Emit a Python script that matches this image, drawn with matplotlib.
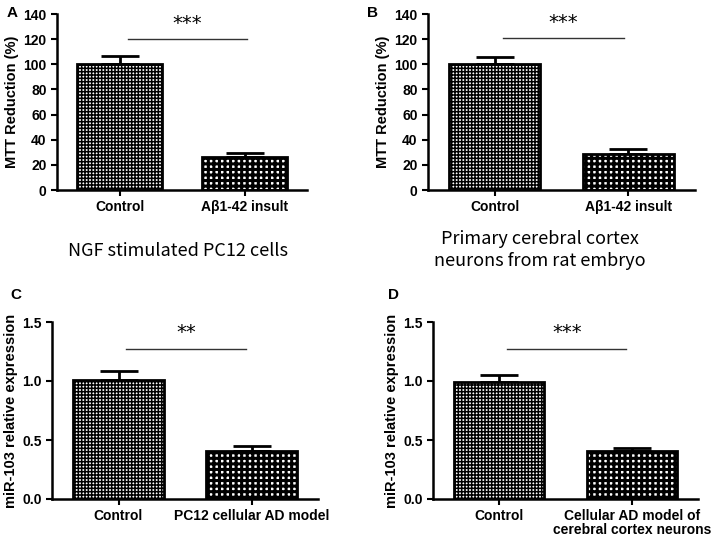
import matplotlib
matplotlib.use("Agg")
import matplotlib.pyplot as plt

plt.rcParams["font.family"] = ["Liberation Sans", "DejaVu Sans"]
plt.rcParams["font.weight"] = "bold"

# ---------------------------------------------------------------------------
# Dati
# ---------------------------------------------------------------------------
labels_a = ["Control", "Aβ1-42 insult"]
mtt_a = [100.0, 26.0]
mtt_a_err = [6.5, 3.5]

labels_b = ["Control", "Aβ1-42 insult"]
mtt_b = [100.0, 28.4]
mtt_b_err = [6.0, 4.0]

labels_c = ["Control", "PC12 cellular AD model"]
mir_c = [1.01, 0.41]
mir_c_err = [0.075, 0.04]

labels_d = ["Control", "Cellular AD model of\ncerebral cortex neurons"]
mir_d = [0.995, 0.41]
mir_d_err = [0.055, 0.02]

stars = ["***", "***", "**", "***"]
sig_levels = [120, 121, 1.275, 1.275]
mtt_ticks = [0, 20, 40, 60, 80, 100, 120, 140]
mir_ticks = [0.0, 0.5, 1.0, 1.5]

W, H = 713, 541


def box(left, top, right, bottom):
    return [left / W, 1 - bottom / H, (right - left) / W, (bottom - top) / H]


def pannello(ax, labels, values, errs, ticks, ylabel, star, sig, sig_x, fmt):
    x = [0, 1]
    # trama a scacchiera: fitta per il controllo, piu' larga per il modello
    stili = [("+++++", 1.1), ("+++", 2.2)]
    for xi, v, (h, lw) in zip(x, values, stili):
        plt.rcParams["hatch.linewidth"] = lw
        ax.bar(xi, v, width=0.68, facecolor="white", edgecolor="black",
               linewidth=2.0, hatch=h, zorder=2)
    ax.errorbar(x, values, yerr=[[0, 0], errs], fmt="none", ecolor="black",
                elinewidth=2.0, capsize=14, capthick=2.0, zorder=1)

    ax.set_xlim(-0.5, 1.5)
    ax.set_ylim(ticks[0], ticks[-1])
    ax.set_yticks(ticks)
    ax.set_yticklabels([fmt.format(t) for t in ticks])
    ax.set_xticks(x)
    ax.set_xticklabels(labels, linespacing=1.0)
    ax.tick_params(axis="both", labelsize=10, width=1.5, length=4,
                   direction="out")
    ax.set_ylabel(ylabel, fontsize=10.5, fontweight="bold", labelpad=3)

    for side in ("top", "right"):
        ax.spines[side].set_visible(False)
    for side in ("left", "bottom"):
        ax.spines[side].set_linewidth(1.8)

    ax.plot(sig_x, [sig, sig], color="#333333", linewidth=1.0,
            clip_on=False)
    span = ticks[-1] - ticks[0]
    ax.text(sum(sig_x) / 2, sig + span * 0.035, star, ha="center",
            va="bottom", fontsize=14, fontweight="normal",
            family="DejaVu Sans")


fig = plt.figure(figsize=(W / 100, H / 100), dpi=100)

ax_a = fig.add_axes(box(57, 14, 307, 190))
ax_b = fig.add_axes(box(428, 14, 695, 190))
ax_c = fig.add_axes(box(52, 322, 318, 499))
ax_d = fig.add_axes(box(433, 322, 698, 499))

pannello(ax_a, labels_a, mtt_a, mtt_a_err, mtt_ticks, "MTT Reduction (%)",
         stars[0], sig_levels[0], [0.07, 1.02], "{:.0f}")
pannello(ax_b, labels_b, mtt_b, mtt_b_err, mtt_ticks, "MTT Reduction (%)",
         stars[1], sig_levels[1], [0.06, 0.97], "{:.0f}")
pannello(ax_c, labels_c, mir_c, mir_c_err, mir_ticks,
         "miR-103 relative expression", stars[2], sig_levels[2],
         [0.06, 0.96], "{:.1f}")
pannello(ax_d, labels_d, mir_d, mir_d_err, mir_ticks,
         "miR-103 relative expression", stars[3], sig_levels[3],
         [0.06, 0.96], "{:.1f}")

for lettera, (px, py) in zip("ABCD", [(7, 13), (367, 13), (10, 295),
                                     (388, 295)]):
    fig.text(px / W, 1 - py / H, lettera, fontsize=11, fontweight="bold",
             ha="left", va="center")

titolo_kw = dict(ha="center", va="center", fontsize=13, fontweight="normal",
                 family=["Noto Sans CJK SC", "DejaVu Sans"])
fig.text(178 / W, 1 - 251 / H, "NGF stimulated PC12 cells", **titolo_kw)
fig.text(540 / W, 1 - 250 / H, "Primary cerebral cortex\nneurons from rat embryo",
         linespacing=1.25, **titolo_kw)

fig.savefig("out.png", dpi=100)
